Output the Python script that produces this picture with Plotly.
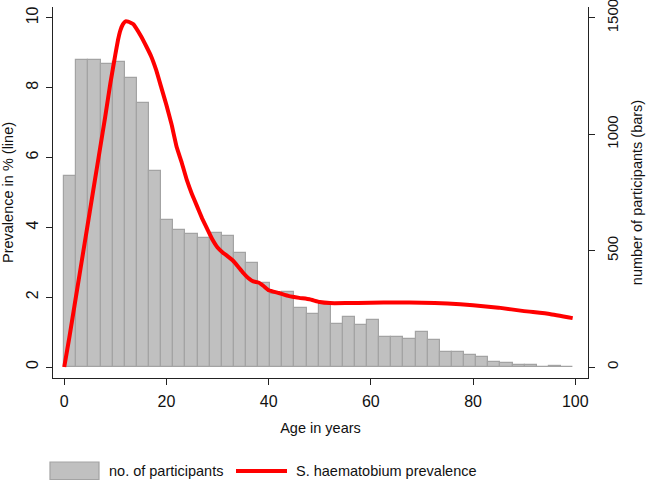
import plotly.graph_objects as go

# ---- data ----
bin_width = 2.371
bar_counts = [819, 1319, 1317, 1303, 1310, 1241, 1135, 840, 633, 587,
              573, 553, 576, 563, 491, 448, 360, 315, 323, 253,
              229, 272, 185, 214, 182, 202, 129, 129, 121, 151,
              116, 66, 65, 53, 43, 23, 17, 9, 10, 2,
              3, 1]
bar_centers = [bin_width * (i + 0.5) for i in range(len(bar_counts))]

line_age = [0, 1, 2, 3, 4, 5, 6, 7, 8, 9, 10, 10.5, 11, 11.5, 12, 12.5, 13, 13.5, 14, 15,
            16, 17, 18, 19, 20, 21, 22, 23, 24, 25, 26, 27, 28, 29, 30, 31, 32, 33, 34,
            35, 36, 37, 38, 39, 40, 42, 44, 46, 48, 50, 52, 55, 60, 65, 70, 75, 80, 85,
            90, 95, 99.5]
line_prev = [0.0, 0.85, 1.75, 2.65, 3.55, 4.45, 5.35, 6.25, 7.15, 8.1, 8.95, 9.35, 9.65,
             9.82, 9.9, 9.89, 9.86, 9.82, 9.72, 9.48, 9.2, 8.9, 8.5, 8.0, 7.5, 6.95, 6.3,
             5.85, 5.35, 4.95, 4.6, 4.25, 3.95, 3.65, 3.42, 3.28, 3.17, 3.05, 2.88, 2.7,
             2.55, 2.45, 2.42, 2.32, 2.2, 2.12, 2.03, 1.98, 1.94, 1.86, 1.83, 1.83, 1.84,
             1.85, 1.84, 1.82, 1.77, 1.70, 1.60, 1.52, 1.40]

x_ticks = [0, 20, 40, 60, 80, 100]
left_ticks = [0, 2, 4, 6, 8, 10]
right_ticks = [0, 500, 1000, 1500]

bar_name = "no. of participants"
line_name = "S. haematobium prevalence"

FONT = "Liberation Sans, Arial, sans-serif"
BAR_FILL = "#c0c0c0"
BAR_EDGE = "#a3a3a3"
RED = "#ff0000"

fig = go.Figure()
fig.add_trace(go.Bar(
    x=bar_centers, y=bar_counts, width=bin_width, name=bar_name,
    marker=dict(color=BAR_FILL, line=dict(color=BAR_EDGE, width=1.2)),
    yaxis="y", showlegend=False,
))
fig.add_trace(go.Scatter(
    x=line_age, y=line_prev, mode="lines", name=line_name,
    line=dict(color=RED, width=4, shape="spline", smoothing=0.3),
    yaxis="y2", showlegend=False,
))

L, R, T, B = 53, 60, 7, 103
W, H = 648, 481
pw = W - L - R
ph = H - T - B

def px_x(p):
    return (p - L) / pw

def px_y(p):
    return (H - B - p) / ph

left_range = [-0.315, 10.31]
right_range = [v * 150 for v in left_range]

axis_common = dict(
    showgrid=False, zeroline=False, showline=True, linecolor="#222", linewidth=1,
    ticks="outside", ticklen=6, tickcolor="#222", tickwidth=1,
    ticklabeloverflow="allow", automargin=False,
)
tick_font = dict(family=FONT, size=16, color="#111")

fig.update_layout(
    width=W, height=H,
    margin=dict(l=L, r=R, t=T, b=B, pad=0, autoexpand=False),
    paper_bgcolor="white", plot_bgcolor="white",
    font=dict(family=FONT, size=14, color="#111"),
    bargap=0,
    xaxis=dict(range=[-2.2, 102.5], tickvals=x_ticks, ticklabelstandoff=3,
               tickfont=tick_font,
               title=dict(text="Age in years", font=dict(size=14.5), standoff=13),
               **axis_common),
    yaxis=dict(range=right_range, tickvals=right_ticks, side="right",
               tickangle=-90, ticklabelstandoff=5,
               tickfont=dict(family=FONT, size=15, color="#111"),
               title=dict(text="number of participants (bars)", font=dict(size=14.5), standoff=11),
               **axis_common),
    yaxis2=dict(range=left_range, tickvals=left_ticks, side="left",
                overlaying="y", tickangle=-90, ticklabelstandoff=2,
                tickfont=tick_font,
                title=dict(text="Prevalence in % (line)", font=dict(size=14.5), standoff=10),
                **axis_common),
)

# legend drawn below the plot area
leg_y = px_y(471)
fig.add_shape(type="rect", xref="paper", yref="paper",
              x0=px_x(50), x1=px_x(99), y0=px_y(479.5), y1=px_y(462),
              fillcolor=BAR_FILL, line=dict(color=BAR_EDGE, width=1.2))
fig.add_shape(type="line", xref="paper", yref="paper",
              x0=px_x(236), x1=px_x(287), y0=leg_y, y1=leg_y,
              line=dict(color=RED, width=4))
fig.add_annotation(text=bar_name, xref="paper", yref="paper", x=px_x(107), y=leg_y,
                   xanchor="left", yanchor="middle", showarrow=False,
                   font=dict(family=FONT, size=14.5, color="#111"))
fig.add_annotation(text=line_name, xref="paper", yref="paper", x=px_x(294), y=leg_y,
                   xanchor="left", yanchor="middle", showarrow=False,
                   font=dict(family=FONT, size=14.5, color="#111"))

fig.write_html("out.html", config={"displayModeBar": False},
               post_script="document.body.style.margin='0px';document.body.style.padding='0px';")
